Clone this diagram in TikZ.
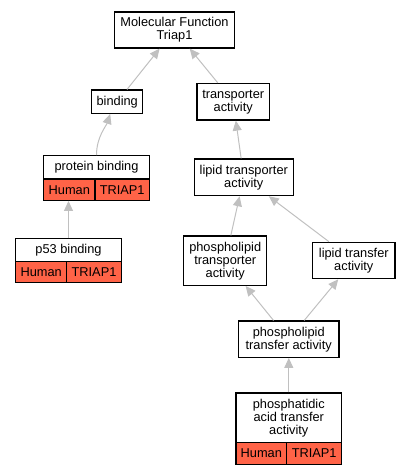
\documentclass[tikz,border=0pt]{standalone}
\usepackage{fontspec}
\setmainfont{Liberation Sans}
\usepackage{xcolor}
\usepackage{tikz}
\usetikzlibrary{arrows.meta}
\definecolor{tomato}{RGB}{255,99,71}
\definecolor{edgegray}{RGB}{192,192,192}

\begin{document}
\begin{tikzpicture}[x=1pt, y=-1pt,
    term/.style={draw, line width=1.2pt, fill=white, align=center, inner sep=0pt,
        font=\fontsize{12.8}{13}\selectfont},
    gene/.style={term, fill=tomato},
    isa/.style={draw=edgegray, line width=1pt, -{Triangle[length=10pt, width=9pt]}}]
    \useasboundingbox (0,0) rectangle (409,475);

    % terms
    \node[term, minimum width=120pt, minimum height=36pt] (mf) at (174.5,30) {Molecular Function\\Triap1};
    \node[term, minimum width=51pt, minimum height=23.3pt] (binding) at (117.2,101.7) {binding};
    \node[term, minimum width=72.3pt, minimum height=36.7pt] (transp) at (233.2,101.7) {transporter\\activity};
    \node[term, minimum width=105.6pt, minimum height=23.3pt] (protein) at (96.5,167.3) {protein binding};
    \node[gene, minimum width=51.3pt, minimum height=21.3pt] (protHuman) at (69.3,189.7) {Human};
    \node[gene, minimum width=54.3pt, minimum height=21.3pt] (protGene) at (122.2,189.7) {TRIAP1};
    \node[term, minimum width=105.6pt, minimum height=22.6pt] (p53) at (68.5,250) {p53 binding};
    \node[gene, minimum width=51pt, minimum height=21.4pt] (p53Human) at (41.2,272) {Human};
    \node[gene, minimum width=54.6pt, minimum height=21.4pt] (p53Gene) at (94,272) {TRIAP1};
    \node[term, minimum width=99pt, minimum height=36.7pt] (lipidtransp) at (243.8,177.3) {lipid transporter\\activity};
    \node[term, minimum width=83pt, minimum height=49.3pt] (phostransp) at (225.2,260.7) {phospholipid\\transporter\\activity};
    \node[term, minimum width=82.3pt, minimum height=36.4pt] (lipidtransf) at (353.8,260.5) {lipid transfer\\activity};
    \node[term, minimum width=100.7pt, minimum height=36.3pt] (phostransf) at (288.7,339.2) {phospholipid\\transfer activity};
    \node[term, minimum width=105.7pt, minimum height=49.3pt] (pa) at (288.8,417.7) {phosphatidic\\acid transfer\\activity};
    \node[gene, minimum width=50.7pt, minimum height=22pt] (paHuman) at (261.3,453.3) {Human};
    \node[gene, minimum width=55pt, minimum height=22pt] (paGene) at (314.2,453.3) {TRIAP1};

    % is_a edges
    \draw[isa] (binding) -- (mf);
    \draw[isa] (transp) -- (mf);
    \draw[isa] (protein.north) .. controls +(0,-18) and +(-4,12) .. ([xshift=-7pt]binding.south);
    \draw[isa] (p53.north) -- (p53.north |- protHuman.south);
    \draw[isa] (lipidtransp) -- (transp);
    \draw[isa] (phostransp) -- (lipidtransp);
    \draw[isa] (lipidtransf) -- (lipidtransp);
    \draw[isa] (phostransf) -- (phostransp);
    \draw[isa] (phostransf) -- (lipidtransf);
    \draw[isa] (pa.north) -- (pa.north |- phostransf.south);
\end{tikzpicture}
\end{document}
